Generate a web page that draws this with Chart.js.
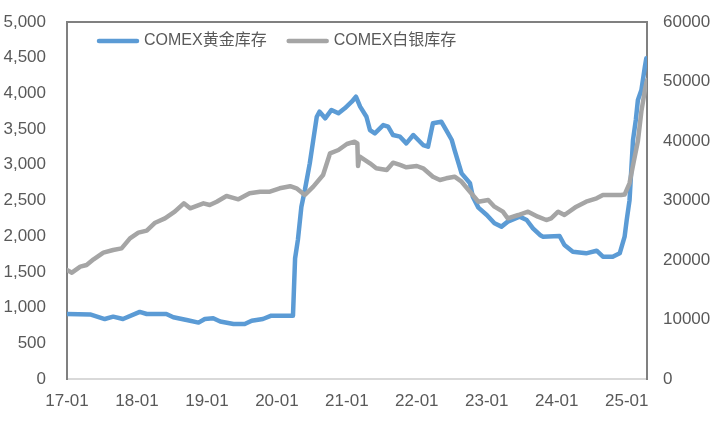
<!DOCTYPE html>
<html>
<head>
<meta charset="utf-8">
<script src="https://cdn.jsdelivr.net/npm/chart.js@4/dist/chart.umd.min.js"></script>
<style>
  html, body { margin:0; padding:0; background:#fff; }
  #wrap { width:716px; height:436px; }
</style>
</head>
<body>
<div id="wrap"><canvas id="c" width="716" height="436"></canvas></div>
<script>
// x values are decimal years (2017.0 = 17-01)
const goldDates = [2017.00,2017.33,2017.54,2017.66,2017.80,2018.04,2018.14,2018.42,2018.52,2018.71,2018.88,2018.97,
  2019.09,2019.19,2019.38,2019.54,2019.64,2019.80,2019.92,2020.23,2020.26,2020.30,2020.35,2020.40,2020.47,2020.52,
  2020.57,2020.61,2020.69,2020.78,2020.88,2020.97,2021.07,2021.13,2021.19,2021.28,2021.33,2021.40,2021.52,2021.59,
  2021.66,2021.76,2021.85,2021.95,2022.02,2022.09,2022.16,2022.23,2022.35,2022.42,2022.50,2022.54,2022.64,2022.76,
  2022.80,2022.88,2023.00,2023.11,2023.21,2023.30,2023.47,2023.57,2023.66,2023.76,2023.80,2024.04,2024.11,2024.23,
  2024.42,2024.57,2024.66,2024.80,2024.90,2024.97,2025.00,2025.04,2025.09,2025.13,2025.16,2025.21,2025.26,2025.28];
const goldStock = [910,905,840,873,840,940,910,910,864,826,790,840,
  850,805,770,770,817,840,887,887,1690,1947,2413,2647,3021,3347,
  3673,3744,3651,3768,3721,3791,3884,3954,3814,3673,3487,3441,3557,3534,
  3417,3394,3300,3417,3347,3277,3254,3581,3604,3487,3347,3207,2880,2741,
  2553,2400,2297,2181,2134,2204,2274,2227,2111,2017,1993,2003,1877,1783,
  1760,1797,1713,1713,1760,1993,2227,2500,3347,3627,3907,4048,4374,4491];

const silverDates = [2017.00,2017.07,2017.19,2017.28,2017.38,2017.52,2017.66,2017.78,2017.90,2018.02,2018.14,2018.26,
  2018.40,2018.54,2018.67,2018.76,2018.95,2019.04,2019.14,2019.28,2019.35,2019.45,2019.61,2019.76,2019.90,2020.04,
  2020.19,2020.28,2020.40,2020.52,2020.66,2020.76,2020.88,2021.00,2021.11,2021.15,2021.16,2021.18,2021.33,2021.42,
  2021.57,2021.66,2021.76,2021.85,2022.00,2022.09,2022.23,2022.33,2022.42,2022.54,2022.64,2022.76,2022.88,2023.02,
  2023.11,2023.23,2023.30,2023.45,2023.59,2023.73,2023.85,2023.92,2024.02,2024.11,2024.28,2024.42,2024.57,2024.66,
  2024.83,2024.92,2024.97,2025.04,2025.10,2025.16,2025.21,2025.26,2025.29];
const silverStock = [18320,17870,18880,19160,20120,21230,21680,21960,23640,24600,24940,26270,
  27000,28120,29530,28680,29530,29240,29800,30760,30530,30200,31210,31480,31480,32050,
  32400,32050,30920,32330,34290,37930,38490,39500,39890,39600,35800,37400,36250,35410,
  35130,36360,35970,35580,35800,35410,34000,33450,33730,34000,33160,31480,29800,30080,
  28960,28120,27010,27560,28120,27280,26720,27010,28120,27560,28960,29800,30370,30920,
  30920,30920,31000,32890,36500,40000,45000,48570,50250];

const leftTicks = { min:0, max:5000, step:500 };
const rightTicks = { min:0, max:60000, step:10000 };
const seriesNames = ['COMEX黄金库存', 'COMEX白银库存'];
const seriesColors = ['#5B9BD5', '#A5A5A5'];

const FONT = "'Liberation Sans', 'Noto Sans CJK SC', sans-serif";
const TEXT = '#595959';

function pts(xs, ys){ return xs.map((x,i)=>({x:x, y:ys[i]})); }

const frame = {
  id:'frame',
  afterDraw(chart){
    const {ctx, chartArea:a} = chart;
    ctx.save();
    ctx.strokeStyle = '#808080'; ctx.lineWidth = 2;
    ctx.beginPath(); ctx.moveTo(a.left-1, a.top); ctx.lineTo(a.right+1, a.top); ctx.stroke();
    // legend inside plot area
    ctx.font = '16px ' + FONT;
    ctx.textBaseline = 'middle';
    let x = 97; const y = 41;
    chart.data.datasets.slice().sort((p,q)=>p.legendIndex-q.legendIndex).forEach(ds=>{
      ctx.strokeStyle = ds.borderColor; ctx.lineWidth = 4.5; ctx.lineCap = 'round';
      ctx.beginPath(); ctx.moveTo(x+2, y); ctx.lineTo(x+40, y); ctx.stroke();
      ctx.fillStyle = TEXT;
      ctx.fillText(ds.label, x+47, y);
      x += 47 + ctx.measureText(ds.label).width + 20;
    });
    ctx.restore();
  }
};

const bg = {
  id:'bg',
  beforeDraw(chart){
    const ctx = chart.ctx; ctx.save(); ctx.fillStyle = '#fff';
    ctx.fillRect(0,0,chart.width,chart.height); ctx.restore();
  }
};

new Chart(document.getElementById('c'), {
  type:'line',
  data:{
    datasets:[
      { label:seriesNames[0], data:pts(goldDates, goldStock), yAxisID:'y', borderColor:seriesColors[0],
        borderWidth:4.5, pointRadius:0, tension:0, fill:false, order:1, legendIndex:0,
        borderJoinStyle:'round', borderCapStyle:'round' },
      { label:seriesNames[1], data:pts(silverDates, silverStock), yAxisID:'y1', borderColor:seriesColors[1],
        borderWidth:4.5, pointRadius:0, tension:0, fill:false, order:0, legendIndex:1,
        borderJoinStyle:'round', borderCapStyle:'round' }
    ]
  },
  options:{
    responsive:false, animation:false, devicePixelRatio:1,
    layout:{ padding:{ top:22, left:0, right:0, bottom:0 } },
    plugins:{ legend:{ display:false }, tooltip:{ enabled:false } },
    scales:{
      x:{
        type:'linear', min:2017, max:2025.29,
        grid:{ display:false, drawTicks:false },
        border:{ display:true, color:'#D9D9D9', width:2 },
        ticks:{ stepSize:1, includeBounds:false, autoSkip:false, maxRotation:0, padding:12,
          color:TEXT, font:{ family:FONT, size:17 },
          callback:v => String(v).slice(2) + '-01' },
        afterFit(s){ s.height = 57; s.paddingLeft = 0; s.paddingRight = 0; }
      },
      y:{
        position:'left', min:leftTicks.min, max:leftTicks.max,
        grid:{ display:false, drawTicks:false },
        border:{ display:true, color:'#808080', width:2 },
        ticks:{ stepSize:leftTicks.step, padding:21, color:TEXT, font:{ family:FONT, size:17 },
          callback:v => v.toLocaleString('en-US') },
        afterFit(s){ s.width = 67; s.paddingTop = 0; s.paddingBottom = 0; }
      },
      y1:{
        position:'right', min:rightTicks.min, max:rightTicks.max,
        grid:{ display:false, drawTicks:false },
        border:{ display:true, color:'#808080', width:2 },
        ticks:{ stepSize:rightTicks.step, padding:16, color:TEXT, font:{ family:FONT, size:17 },
          callback:v => String(v) },
        afterFit(s){ s.width = 69; s.paddingTop = 0; s.paddingBottom = 0; }
      }
    }
  },
  plugins:[bg, frame]
});
</script>
</body>
</html>
